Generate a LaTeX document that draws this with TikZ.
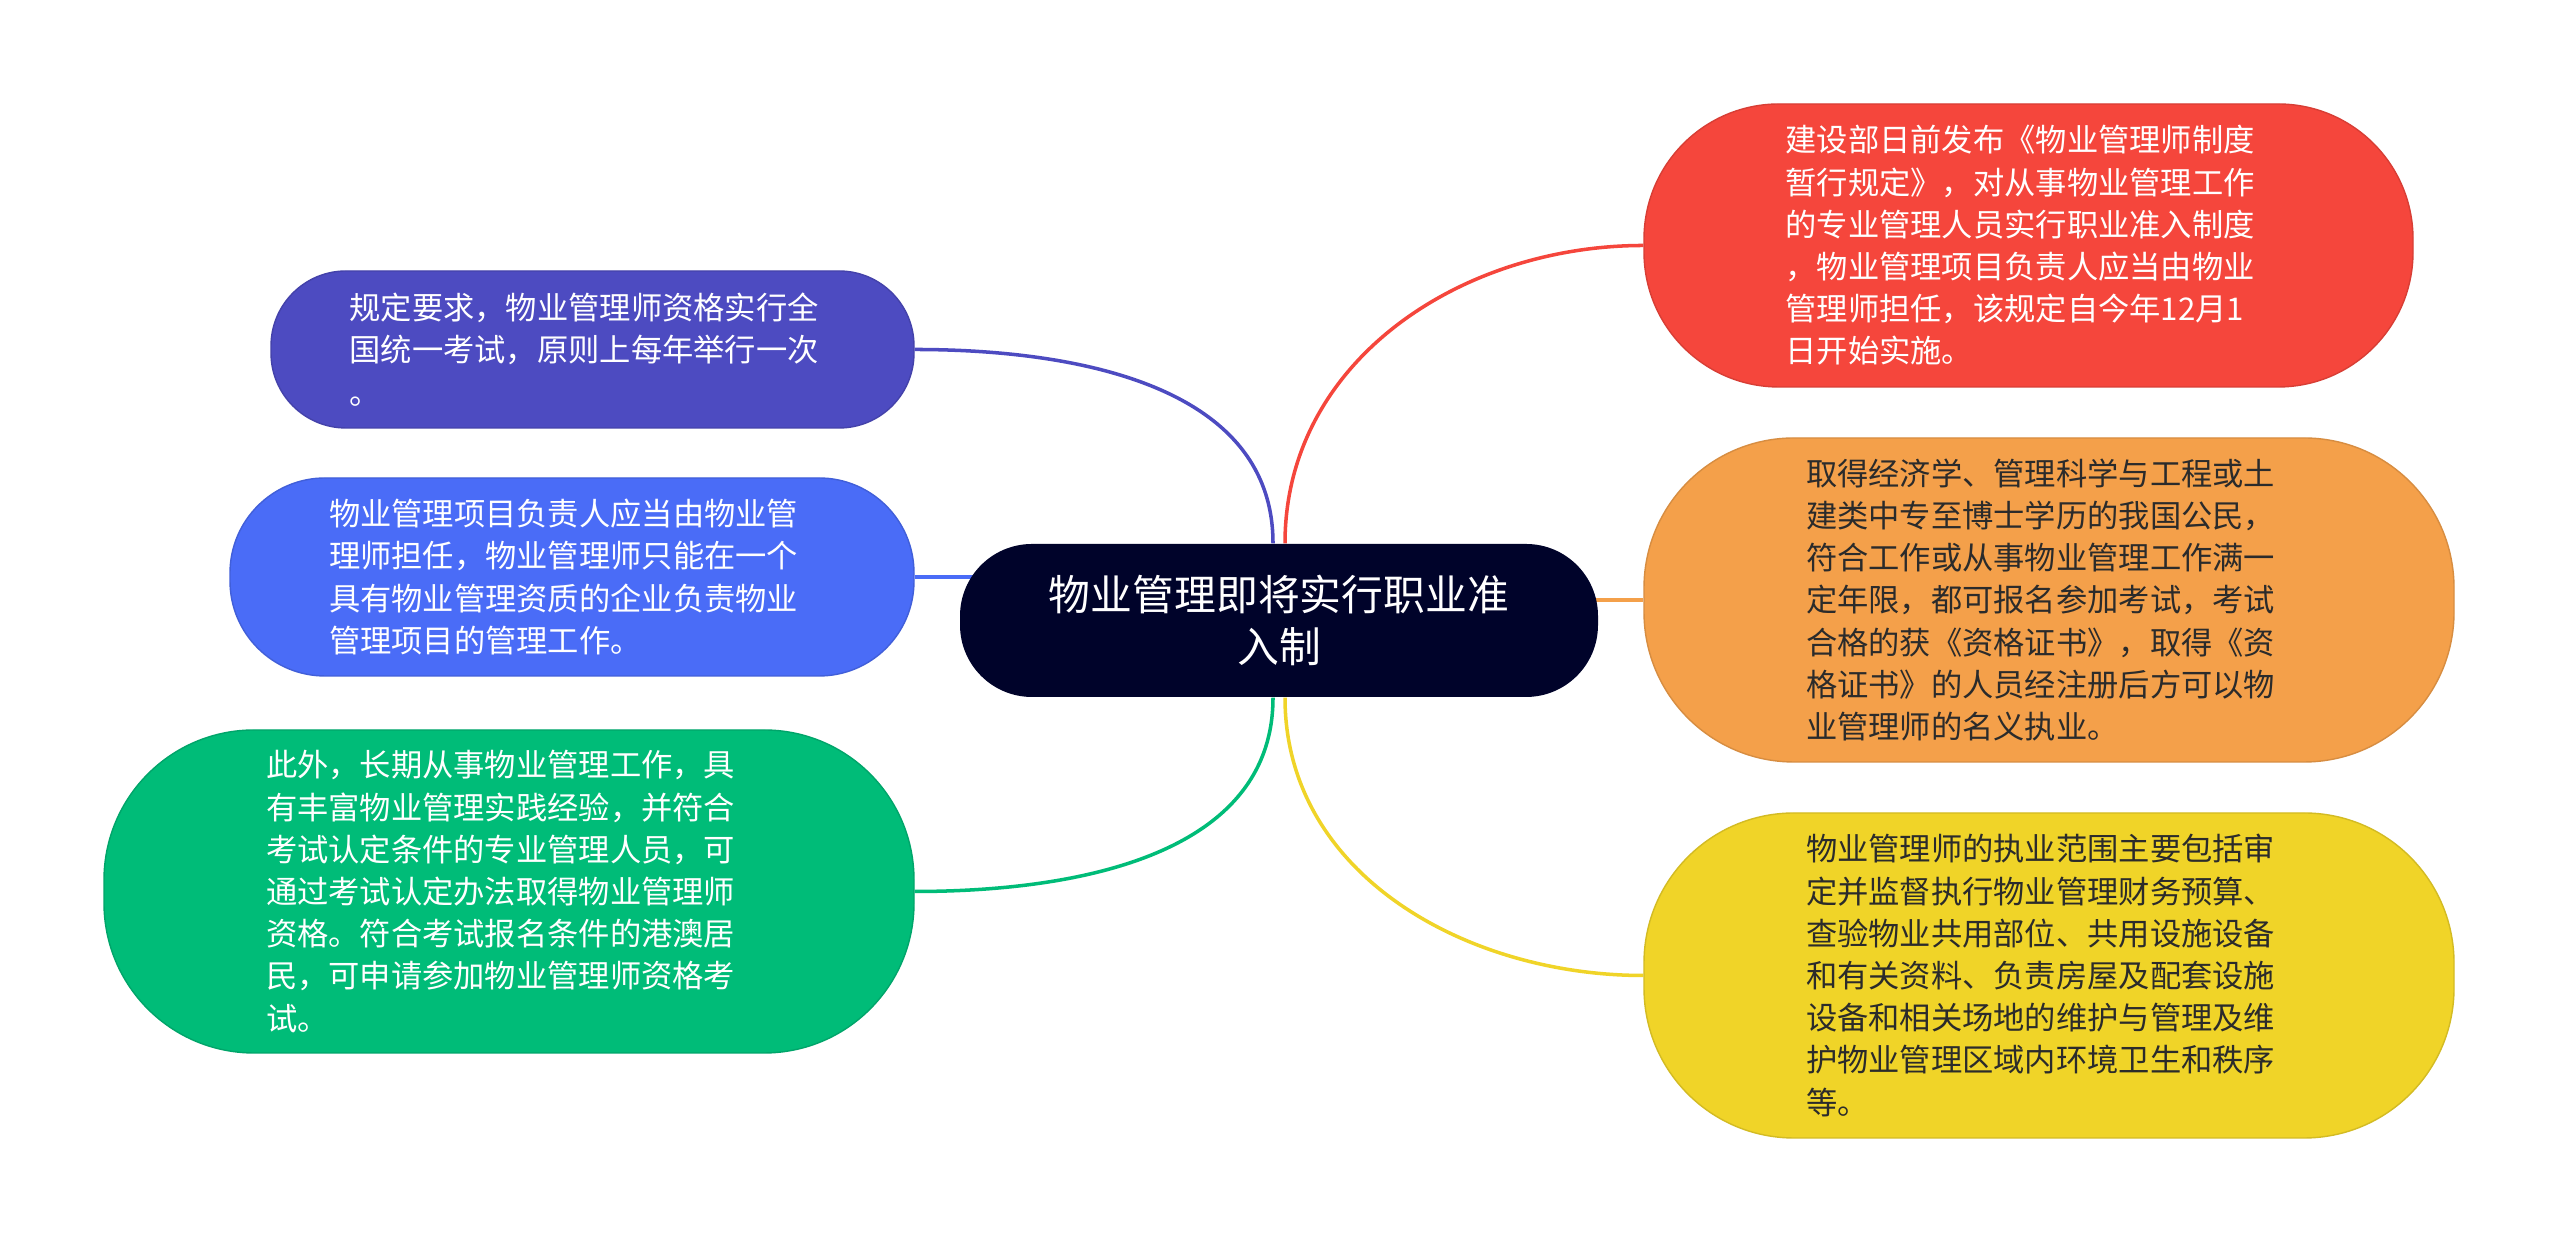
\documentclass[tikz,border=0pt]{standalone}
\usepackage{fontspec}
\setmainfont{Noto Sans CJK SC}
\usepackage{xcolor}
\usepackage{tikz}
\usetikzlibrary{positioning, backgrounds}
\definecolor{hubnavy}{HTML}{00032A}
\definecolor{cpurple}{HTML}{4D4BC1}
\definecolor{cblue}{HTML}{4A6CF7}
\definecolor{cgreen}{HTML}{00BC78}
\definecolor{cred}{HTML}{F5463C}
\definecolor{corange}{HTML}{F4A04A}
\definecolor{cyellow}{HTML}{F0D428}
\definecolor{darktext}{HTML}{2B2B2B}

\begin{document}
\begin{tikzpicture}[
    hub/.style={rectangle, fill=hubnavy, text=white, rounded corners=0.72cm, minimum width=6.38cm, minimum height=1.53cm, align=center, font=\fontsize{11.9pt}{14.8pt}\selectfont, inner sep=0pt},
    topic/.style={rectangle, draw=#1!88!black, line width=0.4pt, fill=#1, text=white, text width=4.86cm, align=left, font=\fontsize{8.9pt}{12pt}\selectfont, inner sep=0pt},
    link/.style={draw=#1, line width=1pt}
]
\useasboundingbox (0,0) rectangle (25.6,12.42);

\node[hub] (hub) at (12.79,6.215) {物业管理即将实行职业准\\入制};

\node[topic=cpurple, minimum width=6.43cm, minimum height=1.57cm, rounded corners=0.75cm] (exam) at (5.925,8.925)
    {规定要求，物业管理师资格实行全\\国统一考试，原则上每年举行一次\\。};
\node[topic=cblue, minimum width=6.84cm, minimum height=1.98cm, rounded corners=0.95cm] (lead) at (5.72,6.65)
    {物业管理项目负责人应当由物业管\\理师担任，物业管理师只能在一个\\具有物业管理资质的企业负责物业\\管理项目的管理工作。};
\node[topic=cgreen, minimum width=8.10cm, minimum height=3.23cm, rounded corners=1.5cm] (waiver) at (5.09,3.505)
    {此外，长期从事物业管理工作，具\\有丰富物业管理实践经验，并符合\\考试认定条件的专业管理人员，可\\通过考试认定办法取得物业管理师\\资格。符合考试报名条件的港澳居\\民，可申请参加物业管理师资格考\\试。};

\node[topic=cred, minimum width=7.69cm, minimum height=2.83cm, rounded corners=1.35cm] (rule) at (20.285,9.965)
    {建设部日前发布《物业管理师制度\\暂行规定》，对从事物业管理工作\\的专业管理人员实行职业准入制度\\，物业管理项目负责人应当由物业\\管理师担任，该规定自今年12月1\\日开始实施。};
\node[topic=corange, text=darktext, minimum width=8.10cm, minimum height=3.24cm, rounded corners=1.5cm] (entry) at (20.49,6.42)
    {取得经济学、管理科学与工程或土\\建类中专至博士学历的我国公民，\\符合工作或从事物业管理工作满一\\定年限，都可报名参加考试，考试\\合格的获《资格证书》，取得《资\\格证书》的人员经注册后方可以物\\业管理师的名义执业。};
\node[topic=cyellow, text=darktext, minimum width=8.10cm, minimum height=3.25cm, rounded corners=1.5cm] (duty) at (20.49,2.665)
    {物业管理师的执业范围主要包括审\\定并监督执行物业管理财务预算、\\查验物业共用部位、共用设施设备\\和有关资料、负责房屋及配套设施\\设备和相关场地的维护与管理及维\\护物业管理区域内环境卫生和秩序\\等。};

\begin{pgfonlayer}{background}
\fill[white] (0,0) rectangle (25.6,12.42);
\draw[link=cpurple] ([xshift=-0.6mm]hub.north) to[out=90, in=0] (exam.east);
\draw[link=cblue] (lead.east) -- (lead.east -| hub.center);
\draw[link=cgreen] ([xshift=-0.6mm]hub.south) to[out=-90, in=0] (waiver.east);
\draw[link=cred] ([xshift=0.6mm]hub.north) to[out=90, in=180] (rule.west);
\draw[link=corange] (entry.west) -- (entry.west -| hub.center);
\draw[link=cyellow] ([xshift=0.6mm]hub.south) to[out=-90, in=180] (duty.west);
\end{pgfonlayer}
\end{tikzpicture}
\end{document}
